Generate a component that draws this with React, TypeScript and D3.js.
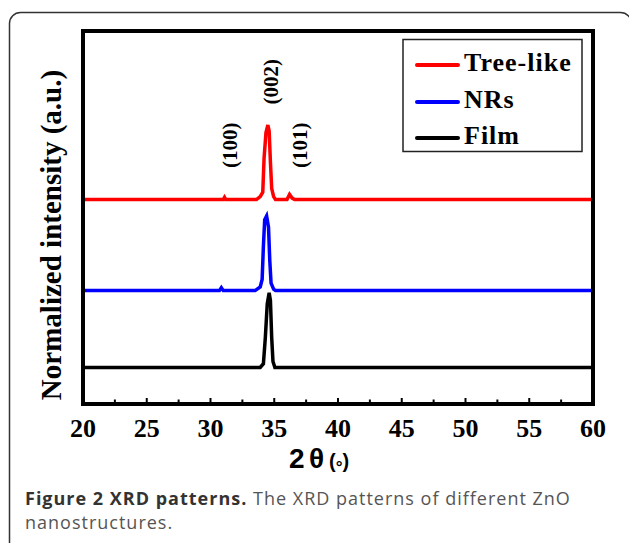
import { useEffect, useRef } from 'react';
import * as d3 from 'd3';

// 2θ positions / normalized intensity for each pattern (peak = 1)
const treeTheta = [20, 31.0, 31.1, 31.2, 33.6, 33.9, 34.1, 34.2, 34.35, 34.5, 34.6, 34.7, 34.8, 34.95, 35.1, 36.0, 36.2, 36.4, 36.6, 60];
const treeValues = [0, 0, 0.03, 0, 0, 0.04, 0.1, 0.55, 0.9, 1, 0.92, 0.5, 0.15, 0.04, 0, 0, 0.07, 0.02, 0, 0];

const nrTheta = [20, 30.7, 30.85, 31.0, 33.5, 33.9, 34.05, 34.15, 34.25, 34.4, 34.55, 34.65, 34.75, 34.95, 35.1, 60];
const nrValues = [0, 0, 0.04, 0, 0, 0.05, 0.15, 0.6, 0.95, 1, 0.85, 0.4, 0.1, 0.02, 0, 0];

const filmTheta = [20, 33.9, 34.15, 34.3, 34.45, 34.6, 34.7, 34.8, 34.9, 35.05, 60];
const filmValues = [0, 0, 0.05, 0.4, 0.85, 1, 0.9, 0.4, 0.08, 0, 0];

const seriesNames = ['Tree-like', 'NRs', 'Film'];
const seriesOffsets = [2.74, 1.52, 0.49];
const seriesColors = ['#ff0000', '#0000ff', '#000000'];

const xTicks = [20, 25, 30, 35, 40, 45, 50, 55, 60];
const xMinorTicks = [22.5, 27.5, 32.5, 37.5, 42.5, 47.5, 52.5, 57.5];

const peakLabels = ['(100)', '(002)', '(101)'];
const peakTheta = [31.5, 34.75, 37.0];
const peakLevel = [3.47, 4.32, 3.47];

export default function App() {
    const svgRef = useRef<SVGSVGElement>(null);

    useEffect(() => {
        const svg = d3.select(svgRef.current);
        svg.selectAll('*').remove();

        const serif = '"Liberation Serif", "Times New Roman", serif';

        // outer rounded caption box
        svg.append('rect')
            .attr('x', 9.5)
            .attr('y', 12.5)
            .attr('width', 622)
            .attr('height', 600)
            .attr('rx', 11)
            .attr('fill', 'none')
            .attr('stroke', '#333')
            .attr('stroke-width', 1.5);

        const left = 83, right = 593, top = 31, bottom = 404;

        const x = d3.scaleLinear().domain([20, 60]).range([left, right]);
        const y = d3.scaleLinear().domain([0, 5]).range([bottom, top]);

        const series = [
            { theta: treeTheta, values: treeValues },
            { theta: nrTheta, values: nrValues },
            { theta: filmTheta, values: filmValues },
        ];

        const line = d3.line<[number, number]>()
            .x((d) => x(d[0]))
            .y((d) => y(d[1]));

        series.forEach((s, i) => {
            const pts: [number, number][] = s.theta.map((t, j) => [t, s.values[j] + seriesOffsets[i]]);
            svg.append('path')
                .attr('d', line(pts))
                .attr('fill', 'none')
                .attr('stroke', seriesColors[i])
                .attr('stroke-width', 3.5)
                .attr('stroke-linejoin', 'miter');
        });

        // frame
        svg.append('rect')
            .attr('x', left)
            .attr('y', top)
            .attr('width', right - left)
            .attr('height', bottom - top)
            .attr('fill', 'none')
            .attr('stroke', '#000')
            .attr('stroke-width', 4);

        // ticks (inward, bottom only)
        const tickG = svg.append('g');
        xTicks.forEach((t) => {
            tickG.append('line')
                .attr('x1', x(t)).attr('x2', x(t))
                .attr('y1', bottom).attr('y2', bottom - 6)
                .attr('stroke', '#000').attr('stroke-width', 2);
        });
        xMinorTicks.forEach((t) => {
            tickG.append('line')
                .attr('x1', x(t)).attr('x2', x(t))
                .attr('y1', bottom).attr('y2', bottom - 4.5)
                .attr('stroke', '#000').attr('stroke-width', 2);
        });

        // tick labels
        svg.append('g')
            .selectAll('text')
            .data(xTicks)
            .enter()
            .append('text')
            .attr('x', (d) => x(d))
            .attr('y', 437)
            .attr('text-anchor', 'middle')
            .style('font-family', serif)
            .style('font-weight', 'bold')
            .style('font-size', '26px')
            .text((d) => d);

        // x axis title
        const xt = svg.append('text')
            .attr('y', 468)
            .style('font-family', '"Liberation Sans", Arial, sans-serif')
            .style('font-weight', 'bold');
        xt.append('tspan').attr('x', 289).style('font-size', '28px').text('2');
        xt.append('tspan').attr('x', 309).style('font-size', '28px').text('θ');
        xt.append('tspan').attr('x', 329).style('font-size', '20px').text('(');
        xt.append('tspan').attr('dy', 5).style('font-size', '17px').text('°');
        xt.append('tspan').attr('dy', -5).style('font-size', '20px').text(')');

        // y axis title
        svg.append('text')
            .attr('transform', `translate(61, 235) rotate(-90)`)
            .attr('text-anchor', 'middle')
            .style('font-family', serif)
            .style('font-weight', 'bold')
            .style('font-size', '29px')
            .text('Normalized intensity (a.u.)');

        // peak labels
        peakLabels.forEach((lab, i) => {
            svg.append('text')
                .attr('transform', `translate(${x(peakTheta[i]) + 7}, ${y(peakLevel[i])}) rotate(-90)`)
                .attr('text-anchor', 'middle')
                .style('font-family', serif)
                .style('font-weight', 'bold')
                .style('font-size', '21px')
                .text(lab);
        });

        // legend
        const legend = svg.append('g');
        legend.append('rect')
            .attr('x', 403)
            .attr('y', 39.5)
            .attr('width', 179)
            .attr('height', 112)
            .attr('fill', '#fff')
            .attr('stroke', '#222')
            .attr('stroke-width', 1.5);

        const rowY = [65, 102, 138];
        seriesNames.forEach((name, i) => {
            legend.append('line')
                .attr('x1', 417).attr('x2', 458)
                .attr('y1', rowY[i]).attr('y2', rowY[i])
                .attr('stroke', seriesColors[i])
                .attr('stroke-width', 4)
                .attr('stroke-linecap', 'round');
            legend.append('text')
                .attr('x', 464)
                .attr('y', rowY[i] + 6)
                .style('font-family', serif)
                .style('font-weight', 'bold')
                .style('font-size', '26px')
                .style('letter-spacing', '1px')
                .text(name);
        });

        // caption
        const cap = svg.append('text')
            .attr('x', 25)
            .attr('y', 505)
            .style('font-family', '"Open Sans", sans-serif')
            .style('font-size', '18px')
            .style('letter-spacing', '1px');
        cap.append('tspan')
            .style('font-weight', 'bold')
            .attr('fill', '#333')
            .text('Figure 2 XRD patterns.');
        cap.append('tspan')
            .attr('fill', '#555')
            .text(' The XRD patterns of different ZnO');
        svg.append('text')
            .attr('x', 25)
            .attr('y', 529)
            .style('font-family', '"Open Sans", sans-serif')
            .style('font-size', '18px')
            .style('letter-spacing', '1px')
            .attr('fill', '#555')
            .text('nanostructures.');
    }, []);

    return (
        <svg
            ref={svgRef}
            width={629}
            height={543}
            style={{ position: 'absolute', left: 0, top: 0, background: '#fff' }}
        />
    );
}
